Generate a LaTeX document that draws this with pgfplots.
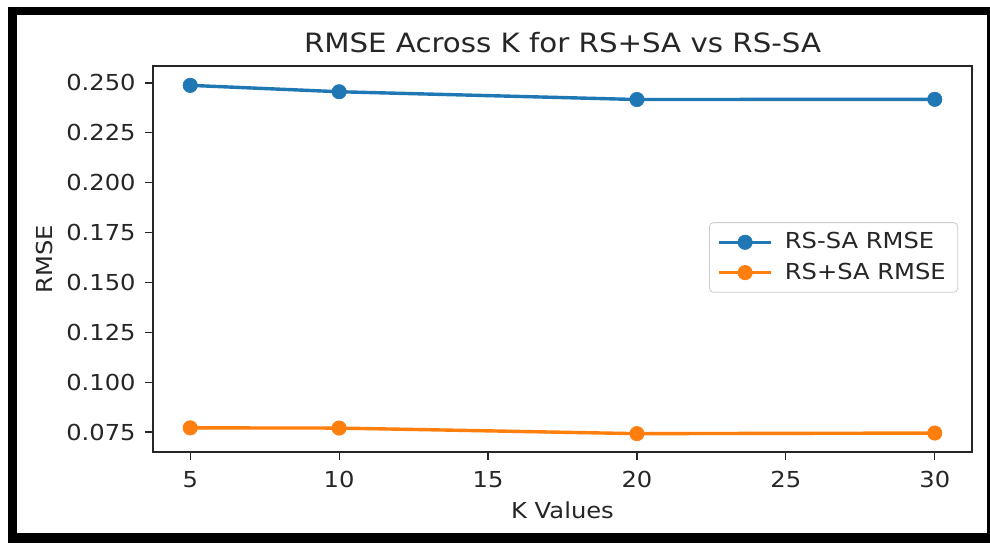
\documentclass[border=0pt]{standalone}
\usepackage{fontspec}
\setmainfont{DejaVu Sans}[FakeStretch=1.1]
\usepackage{pgfplots}
\pgfplotsset{compat=1.18}
\definecolor{mblue}{HTML}{1F77B4}
\definecolor{morange}{HTML}{FF7F0E}
\newcommand{\tickfont}{\fontsize{11}{13.2}\selectfont}
\begin{document}
\begin{tikzpicture}
\useasboundingbox (0,0) rectangle (495pt,271.5pt);
\fill[white] (0,0) rectangle (495pt,271.5pt);
% outer frame
\fill[black] (4pt,0pt) rectangle (8.5pt,268pt);
\fill[black] (4pt,264pt) rectangle (495pt,268pt);
\fill[black] (4pt,0pt) rectangle (495pt,5pt);
\fill[black] (493.5pt,0pt) rectangle (495pt,268pt);
\begin{axis}[
  at={(76.5pt,45.5pt)}, anchor=south west,
  width=409.5pt, height=193pt, scale only axis,
  xmin=3.75, xmax=31.25, ymin=0.065, ymax=0.2585,
  xtick={5,10,15,20,25,30},
  ytick={0.075,0.100,0.125,0.150,0.175,0.200,0.225,0.250},
  /pgf/number format/assume math mode=true,
  tick align=outside, major tick length=4pt,
  xtick pos=bottom, ytick pos=left,
  axis line style={black!85, line width=0.6pt},
  every tick/.style={black!85, line width=0.6pt},
  tick label style={font=\tickfont, text=black!85},
  xticklabel style={anchor=base, yshift=-13.5pt, inner sep=0pt},
  yticklabel style={anchor=east, xshift=-4.5pt, inner sep=0pt,
    /pgf/number format/fixed, /pgf/number format/fixed zerofill, /pgf/number format/precision=3},
  title={RMSE Across K for RS+SA vs RS-SA},
  title style={font=\fontsize{13.3}{16}\selectfont, text=black!85, at={(axis description cs:0.5,1.0337)}, anchor=base, yshift=-6pt, inner sep=0pt},
  xlabel={K Values},
  xlabel style={font=\tickfont, text=black!85, at={(axis description cs:0.5,-0.171)}, anchor=base, inner sep=0pt},
  ylabel={RMSE},
  ylabel style={font=\tickfont, text=black!85, at={(axis description cs:-0.1221,0.5)}, anchor=base, inner sep=0pt},
  legend style={at={(0.983,0.504)}, anchor=east, draw=black!20, rounded corners=2pt,
    font=\tickfont, text=black!85, fill=white, fill opacity=0.8, text opacity=1,
    inner xsep=4pt, inner ysep=3pt, row sep=1.5pt,
    /tikz/every odd column/.append style={column sep=4pt}},
  legend cell align=left,
  legend image code/.code={\draw[mark repeat=2,mark phase=2, opacity=1, fill opacity=1] plot coordinates {(0pt,0pt) (13pt,0pt) (26pt,0pt)};},
]
\addplot[mblue, line width=1.7pt, mark=*, mark size=3.6pt, mark options={solid, fill=mblue, draw=mblue, line width=0.3pt}]
  coordinates {(5,0.2488) (10,0.2456) (20,0.2417) (30,0.2418)};
\addlegendentry{RS-SA RMSE}
\addplot[morange, line width=1.7pt, mark=*, mark size=3.6pt, mark options={solid, fill=morange, draw=morange, line width=0.3pt}]
  coordinates {(5,0.0771) (10,0.0770) (20,0.0742) (30,0.0745)};
\addlegendentry{RS+SA RMSE}
\end{axis}
\end{tikzpicture}
\end{document}
